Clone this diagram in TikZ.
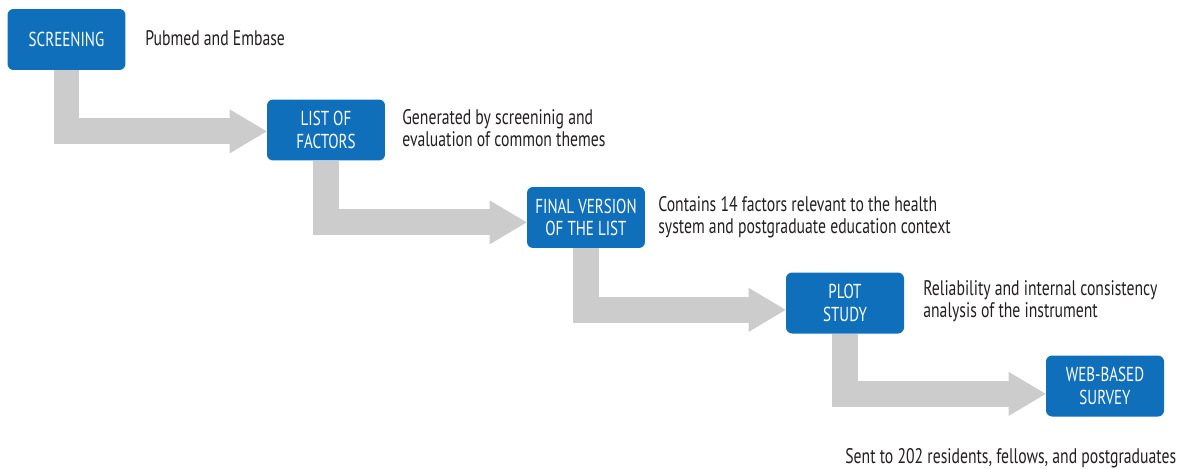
\documentclass[tikz,border=0pt]{standalone}
\usepackage{xcolor}
\usepackage{fontspec}
\setmainfont{PT Sans}[FakeStretch=0.745]
\usetikzlibrary{arrows.meta,calc}

\definecolor{phaseblue}{HTML}{0F6FBA}
\definecolor{flowgray}{HTML}{CCCCCC}
\definecolor{notegray}{HTML}{231F20}

\tikzset{
  phase/.style={fill=phaseblue, text=white, rounded corners=0.12cm,
    minimum width=2.36cm, minimum height=1.22cm, inner sep=0pt,
    align=center, font=\fontsize{11.5}{12.8}\selectfont},
  note/.style={anchor=west, inner sep=0pt, text=notegray, align=left,
    font=\fontsize{12}{12.6}\selectfont},
  flow/.style={draw=flowgray, line width=0.52cm, line join=miter,
    -{Triangle[length=0.74cm, width=0.88cm, line width=0pt]}}
}

\begin{document}
\begin{tikzpicture}[x=0.02cm, y=0.02cm]
    \useasboundingbox (0,0) rectangle (1179,468);

    % Boxes
    \node[phase] (screening) at (66.5,428.5) {SCREENING};
    \node[phase] (factors) at (326,338) {LIST OF\\FACTORS};
    \node[phase] (final) at (586,250.5) {FINAL VERSION\\OF THE LIST};
    \node[phase] (pilot) at (845,165) {PLOT\\STUDY};
    \node[phase] (survey) at (1105,82) {WEB-BASED\\SURVEY};

    % Arrows
    \draw[flow] (screening.south) |- ($(screening.south -| factors.west)+(0,-61)$);
    \draw[flow] (factors.south) |- ($(factors.south -| final.west)+(0,-61.5)$);
    \draw[flow] (final.south) |- ($(final.south -| pilot.west)+(0,-61.5)$);
    \draw[flow] (pilot.south) |- ($(pilot.south -| survey.west)+(0,-60)$);

    % Notes
    \node[note] (n1) at (145,429.5) {Pubmed and Embase};
    \node[note] (n2) at (402,340) {Generated by screeninig and\\evaluation of common themes};
    \node[note] (n3) at (658,250.5) {Contains 14 factors relevant to the health\\system and postgraduate education context};
    \node[note] (n4) at (923,166.5) {Reliability and internal consistency\\analysis of the instrument};
    \node[note] (n5) at (845,10) {Sent to 202 residents, fellows, and postgraduates};
\end{tikzpicture}
\end{document}
